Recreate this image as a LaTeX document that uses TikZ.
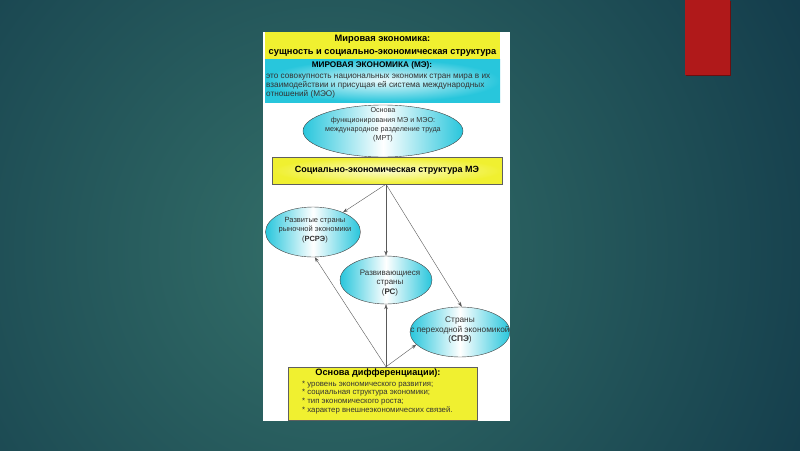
\documentclass[tikz,border=0pt]{standalone}
\usepackage{fontspec}
\setmainfont{Liberation Sans}
\usetikzlibrary{shapes.geometric,arrows.meta,positioning}
\definecolor{bgHi}{RGB}{52,112,105}
\definecolor{bgLo}{RGB}{18,58,74}
\definecolor{slideRed}{RGB}{176,25,26}
\definecolor{boxYellow}{RGB}{240,240,48}
\definecolor{boxCyan}{RGB}{40,198,220}
\definecolor{lineGray}{RGB}{95,95,95}

\begin{document}
\begin{tikzpicture}[x=1pt,y=-1pt,
  ybox/.style={rectangle, draw=lineGray, line width=0.4pt, inner sep=0pt},
  country/.style={ellipse, draw=black!75, line width=0.4pt, left color=boxCyan, right color=boxCyan, middle color=white, inner sep=0pt},
  ctext/.style={align=center, inner sep=0pt, text=black!80},
  arr/.style={-{Stealth[length=5pt,width=3.4pt]}, draw=black!65, line width=0.4pt},
  body/.style={text=black!80, align=left, inner sep=0pt},
  head/.style={font=\bfseries\fontsize{8.2}{11}\selectfont, inner sep=0pt}]
  \useasboundingbox (0,0) rectangle (800,450);
  \begin{scope}
    \clip (0,0) rectangle (800,450);
    \shade[inner color=bgHi, outer color=bgLo] (330,250) circle (560pt);
  \end{scope}
  \fill[slideRed!60!black] (686,1) rectangle (731,76);
  \fill[slideRed] (685,0) rectangle (730,75);
  \fill[white] (263,32) rectangle (510,421);

  \node[rectangle, fill=boxYellow, inner sep=0pt, minimum width=235pt, minimum height=27pt, align=center, font=\bfseries\fontsize{9.3}{13}\selectfont] (title) at (382.5,45.5) {Мировая экономика:\\сущность и социально-экономическая структура};
  \node[rectangle, inner color=boxCyan!10!white, outer color=boxCyan, inner sep=0pt, minimum width=235pt, minimum height=43pt] (defbox) at (382.5,80.5) {};
  \node[head] (defhead) at (372,65.5) {МИРОВАЯ ЭКОНОМИКА (МЭ):};
  \node[body, font=\fontsize{8.2}{9}\selectfont, anchor=north west] (deftext) at (266,73.5) {это совокупность национальных экономик стран мира в их\\взаимодействии и присущая ей система международных\\отношений (МЭО)};

  \node[country, minimum width=160pt, minimum height=52pt] (mrt) at (383,131) {};
  \node[ctext, font=\fontsize{7.2}{9.3}\selectfont] (mrtText) at (383,125) {Основа\\функционирования МЭ и МЭО:\\международное разделение труда\\(МРТ)};
  \node[ybox, inner color=boxYellow!25!white, outer color=boxYellow, minimum width=230pt, minimum height=27pt, font=\bfseries\fontsize{9}{10}\selectfont] (struct) at (387,170.5) {Социально-экономическая структура МЭ};

  \node[country, minimum width=95pt, minimum height=50pt] (rsre) at (313,232) {};
  \node[ctext, font=\fontsize{7.5}{9.2}\selectfont] (rsreText) at (315,230) {Развитые страны\\рыночной экономики\\(\textbf{РСРЭ})};
  \node[country, minimum width=92pt, minimum height=48pt] (rs) at (386,280) {};
  \node[ctext, font=\fontsize{8}{9.8}\selectfont] (rsText) at (390,283) {Развивающиеся\\страны\\(\textbf{РС})};
  \node[country, minimum width=100pt, minimum height=50pt] (spe) at (460,332) {};
  \node[ctext, font=\fontsize{8.3}{9.2}\selectfont] (speText) at (460,330) {Страны\\с переходной экономикой\\(\textbf{СПЭ})};

  \node[ybox, fill=boxYellow, minimum width=189pt, minimum height=53pt] (diff) at (382.5,393.5) {};
  \node[head, font=\bfseries\fontsize{9.2}{10}\selectfont] (diffhead) at (378,373.5) {Основа дифференциации):};
  \node[body, font=\fontsize{7.8}{8.7}\selectfont, anchor=north west] (difflist) at (302,380.5) {* уровень экономического развития;\\* социальная структура экономики;\\* тип экономического роста;\\* характер внешнеэкономических связей.};

  \coordinate (top) at (rs |- struct.south);
  \coordinate (bot) at (rs |- diff.north);
  \draw[arr] (top) -- (rsre);
  \draw[arr] (top) -- (rs);
  \draw[arr] (top) -- (spe.86);
  \draw[arr] (bot) -- (rsre.-86);
  \draw[arr] (bot) -- (rs);
  \draw[arr] (bot) -- (spe.196);
\end{tikzpicture}
\end{document}
